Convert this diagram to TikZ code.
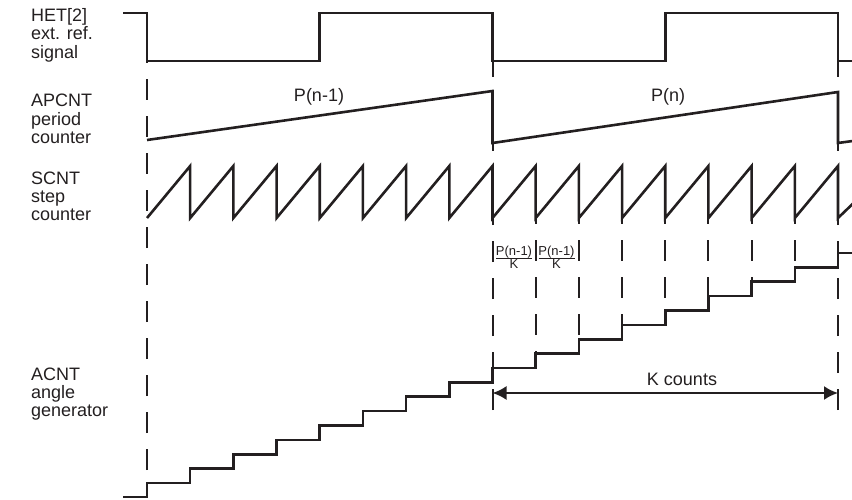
\documentclass[tikz,border=0pt]{standalone}
\usepackage{fontspec}
\setmainfont{Liberation Sans}
\usetikzlibrary{arrows.meta}
\definecolor{ink}{HTML}{231F20}
\begin{document}
\begin{tikzpicture}[x=1pt,y=-1pt,
  sig/.style={draw=ink,line width=2.6pt,line join=miter},
  dashline/.style={draw=ink,line width=2pt,dash pattern=on 21pt off 16pt},
  lbl/.style={font=\fontsize{18}{18.3}\selectfont,text=ink,inner sep=0pt,align=left,anchor=base west},
  fracs/.style={font=\fontsize{13}{13}\selectfont,text=ink,inner sep=0pt,anchor=base},
  dimarrow/.style={draw=ink,line width=2pt,{Latex[length=14pt,width=14pt]}-{Latex[length=14pt,width=14pt]}}]
\useasboundingbox (0,0) rectangle (852,500);
\begin{scope}
\clip (0,0) rectangle (852,500);
% dashed reference lines
\draw[dashline] (147,470) -- (147,61);
\draw[dashline] (492.5,410) -- (492.5,61);
\draw[dashline] (838,410) -- (838,61);
\foreach \k in {9,...,15}
  \draw[dashline] ({147+43.1875*\k},166) -- ({147+43.1875*\k},{483-14.375*\k});
% HET signal
\draw[sig] (123,13) -- (147,13) -- (147,61) -- (319.75,61) -- (319.75,13) -- (492.5,13)
  -- (492.5,61) -- (665.25,61) -- (665.25,13) -- (838,13) -- (838,61) -- (860,61);
% APCNT
\draw[sig] (147,140) -- (492.5,91) -- (492.5,143) -- (838,92) -- (838,143) -- (860,140);
% SCNT sawtooth
\draw[sig] (147,218) foreach \k in {1,...,16} { -- ({147+43.1875*\k},166) -- ({147+43.1875*\k},218) } -- (864,193);
% ACNT staircase
\draw[sig] (123,497) -- (147,497) -- (147,483)
  foreach \k in {1,...,16} { -- ({147+43.1875*\k},{483-14.375*(\k-1)}) -- ({147+43.1875*\k},{483-14.375*\k}) }
  -- (860,253);
\end{scope}
% labels (anchor = baseline of last line)
\node[lbl] (het) at (31,58.3) {HET[2]\\ext. ref.\\signal};
\node[lbl] (apc) at (31,143.6) {APCNT\\period\\counter};
\node[lbl] (scn) at (31,220.6) {SCNT\\step\\counter};
\node[lbl] (acn) at (31,416.6) {ACNT\\angle\\generator};
\node[lbl,anchor=base] (pn1) at (319,102) {P(n-1)};
\node[lbl,anchor=base] (pn) at (668,102) {P(n)};
% fractions
\node[fracs] (f1n) at (514,255) {P(n-1)};
\node[fracs] (f1d) at (514,268.5) {K};
\draw[ink,line width=0.8pt] (496,258.5) -- (532,258.5);
\node[fracs] (f2n) at (556.5,255) {P(n-1)};
\node[fracs] (f2d) at (556.5,268.5) {K};
\draw[ink,line width=0.8pt] (538.5,258.5) -- (574.5,258.5);
% K counts
\coordinate (kl) at (492.5,393);
\coordinate (kr) at (838,393);
\draw[dimarrow] (kl) -- (kr);
\node[lbl,anchor=base] (kc) at (682,385) {K counts};
\end{tikzpicture}
\end{document}
